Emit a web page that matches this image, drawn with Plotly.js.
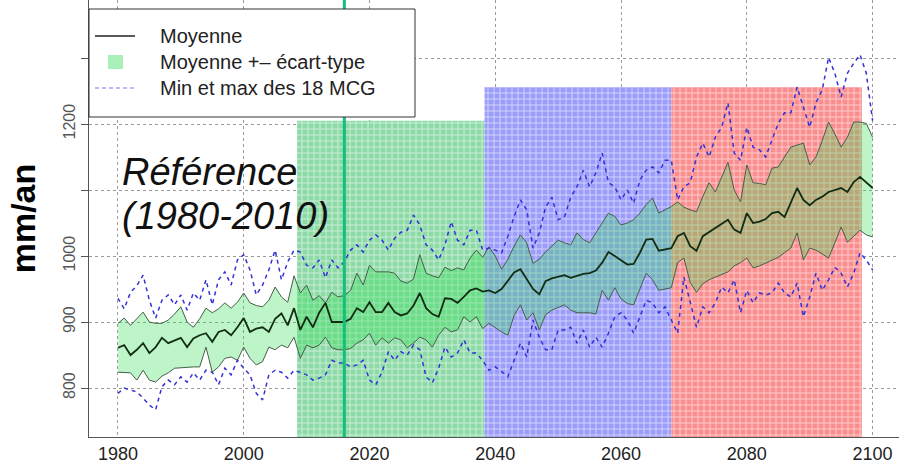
<!DOCTYPE html>
<html>
<head>
<meta charset="utf-8">
<script src="https://cdn.plot.ly/plotly-3.0.1.min.js"></script>
<style>
html,body{margin:0;padding:0;background:#fff;}
#chart{width:899px;height:467px;}
</style>
</head>
<body>
<div id="chart"></div>
<script>
// ---------- DATA ----------
const years = [1980,1981,1982,1983,1984,1985,1986,1987,1988,1989,1990,1991,1992,1993,1994,1995,1996,1997,1998,1999,
2000,2001,2002,2003,2004,2005,2006,2007,2008,2009,2010,2011,2012,2013,2014,2015,2016,2017,2018,2019,
2020,2021,2022,2023,2024,2025,2026,2027,2028,2029,2030,2031,2032,2033,2034,2035,2036,2037,2038,2039,
2040,2041,2042,2043,2044,2045,2046,2047,2048,2049,2050,2051,2052,2053,2054,2055,2056,2057,2058,2059,
2060,2061,2062,2063,2064,2065,2066,2067,2068,2069,2070,2071,2072,2073,2074,2075,2076,2077,2078,2079,
2080,2081,2082,2083,2084,2085,2086,2087,2088,2089,2090,2091,2092,2093,2094,2095,2096,2097,2098,2099,2100];

const meanValues = [861,865,850,858,868,853,862,876,868,872,876,862,875,880,883,870,885,888,880,892,
906,885,890,892,885,905,913,895,921,888,908,892,914,929,900,900,900,905,921,915,
930,915,915,929,915,910,913,925,944,921,912,908,936,935,929,938,948,951,946,948,
944,950,962,975,980,966,950,942,962,966,968,971,967,970,973,974,978,990,1006,1000,
994,987,988,1005,1025,1026,1008,1010,1012,1030,1035,1015,1008,1030,1036,1042,1048,1055,1040,1035,
1065,1050,1052,1056,1065,1067,1059,1080,1103,1085,1077,1085,1090,1097,1100,1103,1097,1112,1120,1111,1103];

const upperValues = [898,906,895,905,915,900,898,898,903,912,923,900,892,905,921,914,920,929,921,930,
944,929,925,923,933,953,938,930,970,944,956,933,940,929,945,938,940,948,974,956,
986,976,976,976,974,962,959,965,1002,974,970,967,983,978,982,979,997,1009,998,1014,
1000,980,995,1015,1032,1020,989,995,1006,1015,1024,1020,1017,1035,1025,1020,1035,1050,1065,1060,
1047,1050,1055,1065,1078,1088,1065,1070,1075,1082,1074,1070,1067,1090,1111,1097,1120,1142,1100,1082,
1138,1111,1110,1108,1133,1135,1150,1165,1168,1171,1138,1150,1175,1203,1185,1165,1180,1203,1203,1201,1180];

const lowerValues = [824,824,823,812,827,812,809,818,823,830,831,832,832,832,862,824,832,845,847,842,
862,845,835,840,862,858,865,861,877,845,865,861,865,877,861,858,858,860,868,873,
883,865,876,868,876,873,861,868,877,873,862,880,892,885,888,908,900,908,890,898,
891,885,880,910,926,903,914,888,911,918,922,926,918,914,914,914,912,948,933,952,
935,928,926,950,974,964,948,950,952,990,997,960,945,958,964,968,972,976,985,990,
997,982,985,989,993,998,1005,1012,1035,994,1012,1009,1003,997,1020,1044,1021,1030,1039,1032,1029];

const maxValues = [936,920,945,955,971,933,906,933,941,926,941,918,944,933,964,926,964,976,956,994,
1002,979,941,956,979,1009,964,991,1009,1006,986,982,994,967,994,982,991,1009,1017,1006,
1024,1032,1024,1009,1027,1036,1039,1062,1047,1017,1009,994,1017,1052,1024,1017,1039,1039,1009,1012,
1009,1005,1030,1060,1085,1070,1012,1035,1074,1089,1055,1059,1089,1105,1130,1105,1126,1156,1111,1105,
1085,1100,1080,1115,1130,1135,1126,1145,1145,1085,1105,1111,1150,1171,1150,1180,1195,1232,1156,1145,
1195,1165,1161,1150,1176,1201,1217,1217,1256,1226,1195,1232,1252,1301,1277,1241,1277,1292,1305,1277,1205];

const minValues = [792,800,797,794,785,774,767,802,812,805,817,809,823,812,827,824,805,830,820,842,
830,820,792,782,820,827,824,815,827,823,820,812,815,820,842,838,838,832,835,842,
812,805,824,855,842,855,850,865,858,817,808,830,862,847,853,873,853,853,842,827,
832,825,817,842,868,847,903,877,858,858,888,888,892,868,888,862,877,862,883,908,
914,903,883,908,933,929,914,923,903,883,968,929,892,923,914,929,953,944,964,914,
948,929,944,941,944,959,944,938,959,908,938,974,948,964,983,974,953,974,1005,994,979];

// shaded scenario periods
const periodStart = [2008.5, 2038.3, 2068.0];
const periodEnd   = [2038.3, 2068.0, 2098.3];
const periodTop   = [1205, 1256, 1256];
const periodColors = ['rgb(140,218,166)', 'rgb(156,156,250)', 'rgb(250,142,142)'];

const referenceYear = 2016;

const xTicks = [1980, 2000, 2020, 2040, 2060, 2080, 2100];
const yTicks = [800, 900, 1000, 1100, 1200, 1300];
const yTickText = ['800', '900', '1000', '', '1200', ''];

const legendLabels = ['Moyenne', 'Moyenne +\u2013 \u00e9cart-type', 'Min et max des 18 MCG'];
const annotationLines = ['R\u00e9f\u00e9rence', '(1980-2010)'];
const yTitle = 'mm/an';

// ---------- LAYOUT HELPERS ----------
const ML = 89, MT = 0, PW = 810, PH = 437;
const xp = px => (px - ML) / PW;
const yp = py => (MT + PH - py) / PH;
const FONT = 'Liberation Sans, Arial, sans-serif';

// ---------- TRACES ----------
const barBase = 700;
const traces = [];
periodStart.forEach((s, i) => {
  traces.push({
    type: 'bar',
    x: [(s + periodEnd[i]) / 2],
    width: [periodEnd[i] - s],
    base: [barBase],
    y: [periodTop[i] - barBase],
    marker: {
      color: periodColors[i],
      line: {width: 0},
      pattern: {shape: '+', fillmode: 'replace', bgcolor: periodColors[i], fgcolor: '#ffffff',
                fgopacity: 0.55, size: 6, solidity: 0.3}
    },
    showlegend: false, hoverinfo: 'skip'
  });
});
traces.push({
  type: 'scatter', mode: 'lines', x: years, y: lowerValues,
  line: {color: 'rgb(70,95,72)', width: 1},
  showlegend: false, hoverinfo: 'skip'
});
traces.push({
  type: 'scatter', mode: 'lines', x: years, y: upperValues,
  fill: 'tonexty', fillcolor: 'rgba(38,222,72,0.30)',
  line: {color: 'rgb(70,95,72)', width: 1},
  showlegend: false, hoverinfo: 'skip'
});
traces.push({
  type: 'scatter', mode: 'lines', x: years, y: meanValues,
  line: {color: 'rgb(18,45,20)', width: 1.8},
  showlegend: false, hoverinfo: 'skip'
});
traces.push({
  type: 'scatter', mode: 'lines', x: years, y: maxValues,
  line: {color: 'rgb(50,50,215)', width: 1.5, dash: '4px,4px'},
  showlegend: false, hoverinfo: 'skip'
});
traces.push({
  type: 'scatter', mode: 'lines', x: years, y: minValues,
  line: {color: 'rgb(50,50,215)', width: 1.5, dash: '4px,4px'},
  showlegend: false, hoverinfo: 'skip'
});

// ---------- SHAPES (vertical line + manual legend) ----------
const shapes = [
  {type: 'line', xref: 'x', yref: 'paper', x0: referenceYear, x1: referenceYear, y0: 0, y1: 1,
   line: {color: 'rgb(20,190,125)', width: 3}, layer: 'above'},
  {type: 'rect', xref: 'paper', yref: 'paper', x0: xp(89), x1: xp(415), y0: yp(117), y1: yp(9),
   fillcolor: '#ffffff', line: {color: '#333', width: 1}, layer: 'above'},
  {type: 'line', xref: 'paper', yref: 'paper', x0: xp(95), x1: xp(135), y0: yp(36), y1: yp(36),
   line: {color: '#222', width: 1.5}, layer: 'above'},
  {type: 'rect', xref: 'paper', yref: 'paper', x0: xp(108), x1: xp(123), y0: yp(69), y1: yp(55),
   fillcolor: 'rgb(170,240,185)', line: {width: 0}, layer: 'above'},
  {type: 'line', xref: 'paper', yref: 'paper', x0: xp(95), x1: xp(135), y0: yp(88), y1: yp(88),
   line: {color: 'rgb(120,120,240)', width: 1.2, dash: '4px,3px'}, layer: 'above'}
];

const legendRowsY = [36, 62, 88];
const annotations = legendLabels.map((t, i) => ({
  xref: 'paper', yref: 'paper', x: xp(158), y: yp(legendRowsY[i]),
  xanchor: 'left', yanchor: 'middle', showarrow: false, text: t,
  font: {family: FONT, size: 20, color: '#222'}
}));
annotations.push({
  xref: 'paper', yref: 'paper', x: xp(120), y: yp(172), xanchor: 'left', yanchor: 'middle',
  showarrow: false, text: '<i>' + annotationLines[0] + '</i>',
  font: {family: FONT, size: 38, color: '#111'}
});
annotations.push({
  xref: 'paper', yref: 'paper', x: xp(120), y: yp(216), xanchor: 'left', yanchor: 'middle',
  showarrow: false, text: '<i>' + annotationLines[1] + '</i>',
  font: {family: FONT, size: 38, color: '#111'}
});

const layout = {
  width: 899, height: 467,
  margin: {l: ML, r: 0, t: MT, b: 30, pad: 0},
  paper_bgcolor: '#ffffff', plot_bgcolor: '#ffffff',
  showlegend: false,
  barmode: 'overlay',
  xaxis: {
    range: [1975.4, 2104.2], tickvals: xTicks, ticktext: xTicks.map(String),
    showgrid: true, gridcolor: '#9a9a9a', griddash: 'dot', gridwidth: 1,
    zeroline: false, showline: true, linecolor: '#555', linewidth: 1,
    ticks: '', ticklen: 0,
    tickfont: {family: FONT, size: 18, color: '#222'}
  },
  yaxis: {
    range: [725.8, 1387.9], tickvals: yTicks, ticktext: yTickText, tickangle: -90,
    showgrid: true, gridcolor: '#9a9a9a', griddash: 'dot', gridwidth: 1,
    zeroline: false, showline: true, linecolor: '#555', linewidth: 1,
    ticks: 'outside', ticklen: 7, tickcolor: '#555',
    tickfont: {family: FONT, size: 16, color: '#555'},
    title: {text: '<b>' + yTitle + '</b>', font: {family: FONT, size: 34, color: '#000'}, standoff: 14}
  },
  shapes: shapes,
  annotations: annotations
};

Plotly.newPlot('chart', traces, layout, {staticPlot: true, displayModeBar: false});
</script>
</body>
</html>
